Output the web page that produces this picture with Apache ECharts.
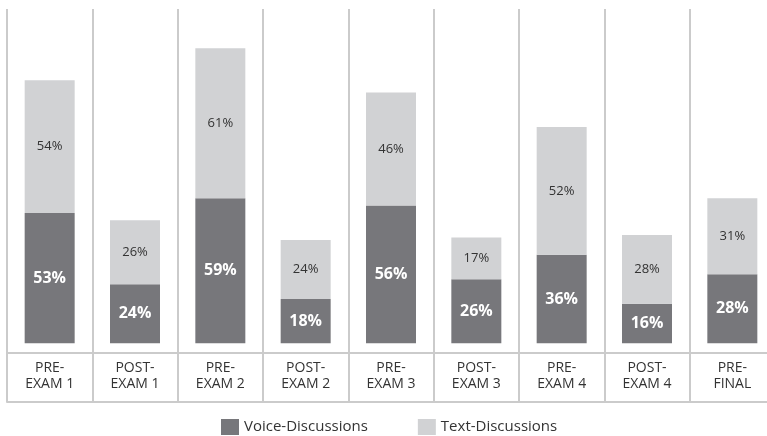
<!DOCTYPE html>
<html>
<head>
<meta charset="utf-8">
<script src="https://cdn.jsdelivr.net/npm/echarts@6/dist/echarts.min.js"></script>
<style>html,body{margin:0;padding:0;background:#fff;overflow:hidden}#c{width:775px;height:436px}</style>
</head>
<body>
<div id="c"></div>
<script>
const categories = ['PRE-\nEXAM 1','POST-\nEXAM 1','PRE-\nEXAM 2','POST-\nEXAM 2','PRE-\nEXAM 3','POST-\nEXAM 3','PRE-\nEXAM 4','POST-\nEXAM 4','PRE-\nFINAL'];
const voice = [53, 24, 59, 18, 56, 26, 36, 16, 28];
const text = [54, 26, 61, 24, 46, 17, 52, 28, 31];
const seriesNames = ['Voice-Discussions', 'Text-Discussions'];

const FONT = 'Open Sans';
const chart = echarts.init(document.getElementById('c'), null, {renderer: 'canvas'});
chart.setOption({
  animation: false,
  textStyle: {fontFamily: FONT},
  grid: {left: 7, right: 0, top: 9, bottom: 83},
  legend: {
    data: seriesNames, top: 414, left: 216, itemWidth: 18, itemHeight: 16, itemGap: 50,
    textStyle: {fontSize: 15, color: '#333', fontFamily: FONT}, icon: 'rect'
  },
  xAxis: [{
    type: 'category', data: categories, position: 'bottom',
    axisLine: {onZero: false, lineStyle: {color: '#cbcbcb', width: 2}},
    axisTick: {show: true, interval: 0, length: 49, lineStyle: {color: '#cbcbcb', width: 2}},
    splitLine: {show: true, interval: 0, lineStyle: {color: '#cbcbcb', width: 2}},
    axisLabel: {interval: 0, margin: 7, fontSize: 14, lineHeight: 16, color: '#333', fontFamily: FONT}
  }, {
    type: 'category', data: categories, position: 'bottom', offset: 49,
    axisLine: {onZero: false, lineStyle: {color: '#cbcbcb', width: 2}},
    axisTick: {show: false}, axisLabel: {show: false}, splitLine: {show: false}
  }],
  yAxis: {type: 'value', min: -4, max: 136, show: false, splitLine: {show: false}},
  series: [{
    name: seriesNames[0], type: 'bar', stack: 's', data: voice, barWidth: 50,
    itemStyle: {color: '#77777b'},
    label: {show: true, position: 'inside', formatter: '{c}%', color: '#fff', fontSize: 16, fontWeight: 'bold', fontFamily: FONT}
  }, {
    name: seriesNames[1], type: 'bar', stack: 's', data: text, barWidth: 50,
    itemStyle: {color: '#d1d2d4'},
    label: {show: true, position: 'inside', formatter: '{c}%', color: '#333', fontSize: 13, fontFamily: FONT}
  }]
});
</script>
</body>
</html>
